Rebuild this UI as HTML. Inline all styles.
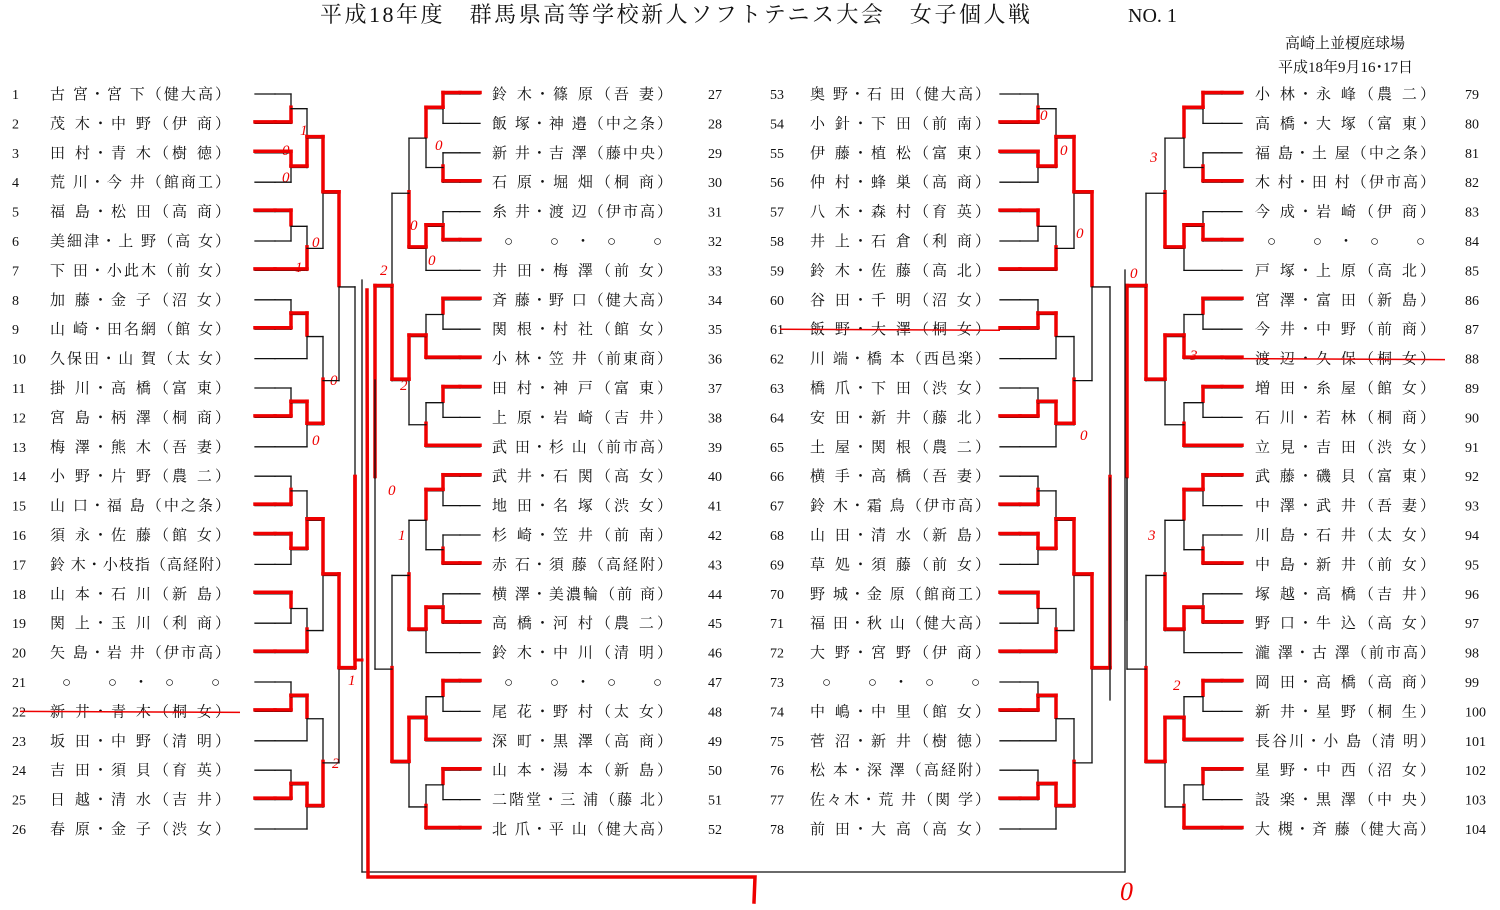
<!DOCTYPE html>
<html><head><meta charset="utf-8"><style>
html,body{margin:0;padding:0;background:#fff;}
svg{display:block}
text{font-family:"Liberation Serif","Noto Serif CJK SC","Noto Sans CJK JP",serif;fill:#111;}
.n{font-size:14px}
.m{font-size:15px}
</style></head><body>
<svg id="s" width="1500" height="910" xmlns="http://www.w3.org/2000/svg">
<text x="320" y="22" font-size="22" textLength="710" lengthAdjust="spacing">平成18年度　群馬県高等学校新人ソフトテニス大会　女子個人戦</text>
<text x="1128" y="22" font-size="20">NO. 1</text>
<text x="1285" y="48" font-size="15">高崎上並榎庭球場</text>
<text x="1278" y="72" font-size="15">平成18年9月16･17日</text>
<g id="names"></g>
<g id="lines" fill="none" stroke-linecap="square"></g>
</svg>
<script>
var L=[
["古 宮・宮 下（健大高）","茂 木・中 野（伊 商）","田 村・青 木（樹 徳）","荒 川・今 井（館商工）","福 島・松 田（高 商）","美細津・上 野（高 女）","下 田・小此木（前 女）","加 藤・金 子（沼 女）","山 崎・田名網（館 女）","久保田・山 賀（太 女）","掛 川・高 橋（富 東）","宮 島・柄 澤（桐 商）","梅 澤・熊 木（吾 妻）","小 野・片 野（農 二）","山 口・福 島（中之条）","須 永・佐 藤（館 女）","鈴 木・小枝指（高経附）","山 本・石 川（新 島）","関 上・玉 川（利 商）","矢 島・岩 井（伊市高）","○ ○・○ ○","新 井・青 木（桐 女）","坂 田・中 野（清 明）","吉 田・須 貝（育 英）","日 越・清 水（吉 井）","春 原・金 子（渋 女）"],
["鈴 木・篠 原（吾 妻）","飯 塚・神 邉（中之条）","新 井・吉 澤（藤中央）","石 原・堀 畑（桐 商）","糸 井・渡 辺（伊市高）","○ ○・○ ○","井 田・梅 澤（前 女）","斉 藤・野 口（健大高）","関 根・村 社（館 女）","小 林・笠 井（前東商）","田 村・神 戸（富 東）","上 原・岩 崎（吉 井）","武 田・杉 山（前市高）","武 井・石 関（高 女）","地 田・名 塚（渋 女）","杉 崎・笠 井（前 南）","赤 石・須 藤（高経附）","横 澤・美濃輪（前 商）","高 橋・河 村（農 二）","鈴 木・中 川（清 明）","○ ○・○ ○","尾 花・野 村（太 女）","深 町・黒 澤（高 商）","山 本・湯 本（新 島）","二階堂・三 浦（藤 北）","北 爪・平 山（健大高）"],
["奥 野・石 田（健大高）","小 針・下 田（前 南）","伊 藤・植 松（富 東）","仲 村・蜂 巣（高 商）","八 木・森 村（育 英）","井 上・石 倉（利 商）","鈴 木・佐 藤（高 北）","谷 田・千 明（沼 女）","飯 野・大 澤（桐 女）","川 端・橋 本（西邑楽）","橋 爪・下 田（渋 女）","安 田・新 井（藤 北）","土 屋・関 根（農 二）","横 手・高 橋（吾 妻）","鈴 木・霜 鳥（伊市高）","山 田・清 水（新 島）","草 処・須 藤（前 女）","野 城・金 原（館商工）","福 田・秋 山（健大高）","大 野・宮 野（伊 商）","○ ○・○ ○","中 嶋・中 里（館 女）","菅 沼・新 井（樹 徳）","松 本・深 澤（高経附）","佐々木・荒 井（関 学）","前 田・大 高（高 女）"],
["小 林・永 峰（農 二）","高 橋・大 塚（富 東）","福 島・土 屋（中之条）","木 村・田 村（伊市高）","今 成・岩 崎（伊 商）","○ ○・○ ○","戸 塚・上 原（高 北）","宮 澤・富 田（新 島）","今 井・中 野（前 商）","渡 辺・久 保（桐 女）","増 田・糸 屋（館 女）","石 川・若 林（桐 商）","立 見・吉 田（渋 女）","武 藤・磯 貝（富 東）","中 澤・武 井（吾 妻）","川 島・石 井（太 女）","中 島・新 井（前 女）","塚 越・高 橋（吉 井）","野 口・牛 込（高 女）","瀧 澤・古 澤（前市高）","岡 田・高 橋（高 商）","新 井・星 野（桐 生）","長谷川・小 島（清 明）","星 野・中 西（沼 女）","設 楽・黒 澤（中 央）","大 槻・斉 藤（健大高）"]];
var NX=[50,492,810,1255], NUMX=[12,708,770,1465];
var ns="http://www.w3.org/2000/svg",G=document.getElementById("names"),LG=document.getElementById("lines");
function Y(i){return 94+29.4*i;}
function el(t,a,p){var e=document.createElementNS(ns,t);for(var k in a)e.setAttribute(k,a[k]);(p||G).appendChild(e);return e;}
var strike={21:[0],8:[2],9:[3]};
for(var c=0;c<4;c++)for(var i=0;i<26;i++){
 var y=Y(i)+5,n=c*26+i+1;
 var t=el("text",{x:NUMX[c],y:y,"class":"n"});t.textContent=n;
 var s=L[c][i];
 var w=s.charAt(0)=="○"?158:180, x=NX[c]+(s.charAt(0)=="○"?12:0);
 t=el("text",{x:x,y:y,"class":"m",textLength:w,lengthAdjust:"spacing"});t.textContent=s;
 if(strike[i]&&strike[i].indexOf(c)>=0){el("line",{x1:NX[c]-30,y1:y-5,x2:NX[c]+w+10,y2:y-4,stroke:"#e00","stroke-width":1.5});}
}
function ln(x1,y1,x2,y2,red){
 el("line",{x1:x1,y1:y1,x2:x2,y2:y2,stroke:"#111","stroke-width":1.3},LG);
 if(red)el("line",{x1:x1,y1:y1-1.5,x2:x2,y2:y2-1.5,stroke:"#e00","stroke-width":3.5},LG);
}
var cnt=0;
function build(rows,edge,dir,step){
 if(rows.length==1){return {y:Y(rows[0]),x:edge+dir*20,d:0,leaf:true,edge:edge};}
 var h=Math.ceil(rows.length/2);
 var a=build(rows.slice(0,h),edge,dir,step),b=build(rows.slice(h),edge,dir,step);
 var d=Math.max(a.d,b.d)+1,x=edge+dir*(20+step*d);
 cnt++;var wa=(cnt%2)==0;
 [[a,wa],[b,!wa]].forEach(function(p){var c=p[0];
  if(c.leaf)ln(c.edge,c.y,c.x,c.y,p[1]);
  ln(c.x,c.y,x,c.y,p[1]);});
 ln(x,a.y,x,b.y,false);
 var my=(a.y+b.y)/2;
 ln(x,wa?a.y:b.y,x,my,true);
 return {y:my,x:x,d:d};
}
var r=[];for(var i=0;i<26;i++)r.push(i);
var A=build(r,255,1,16),B=build(r,480,-1,17),C=build(r,1000,1,18),D=build(r,1242,-1,19);
ln(A.x,A.y,A.x,660,true);ln(B.x,B.y,B.x,380,false);
ln(C.x,C.y,C.x,700,false);ln(D.x,D.y,D.x,620,false);
ln(362,280,362,872,false);ln(1125,270,1125,872,false);ln(362,872,1125,872,false);
el("path",{d:"M367,290 L368,877 L755,877 L754,902",stroke:"#e00","stroke-width":3.5,fill:"none"},LG);
el("path",{d:"M362,660 L355,660",stroke:"#e00","stroke-width":3},LG);
var reds=[[300,135,"1"],[282,155,"0"],[282,182,"0"],[312,247,"0"],[295,272,"1"],[330,385,"0"],[312,445,"0"],[380,275,"2"],[400,390,"2"],[388,495,"0"],[398,540,"1"],[348,685,"1"],[332,768,"2"],[435,150,"0"],[410,230,"0"],[428,265,"0"],[1040,120,"0"],[1060,155,"0"],[1076,238,"0"],[1130,278,"0"],[1080,440,"0"],[1150,162,"3"],[1190,360,"3"],[1148,540,"3"],[1173,690,"2"],[1120,900,"0"]];
reds.forEach(function(q){var t=el("text",{x:q[0],y:q[1],"font-size":q[2]=="0"&&q[1]>880?26:15,"font-style":"italic"});t.style.fill="#e00";t.textContent=q[2];});
</script>
</body></html>
